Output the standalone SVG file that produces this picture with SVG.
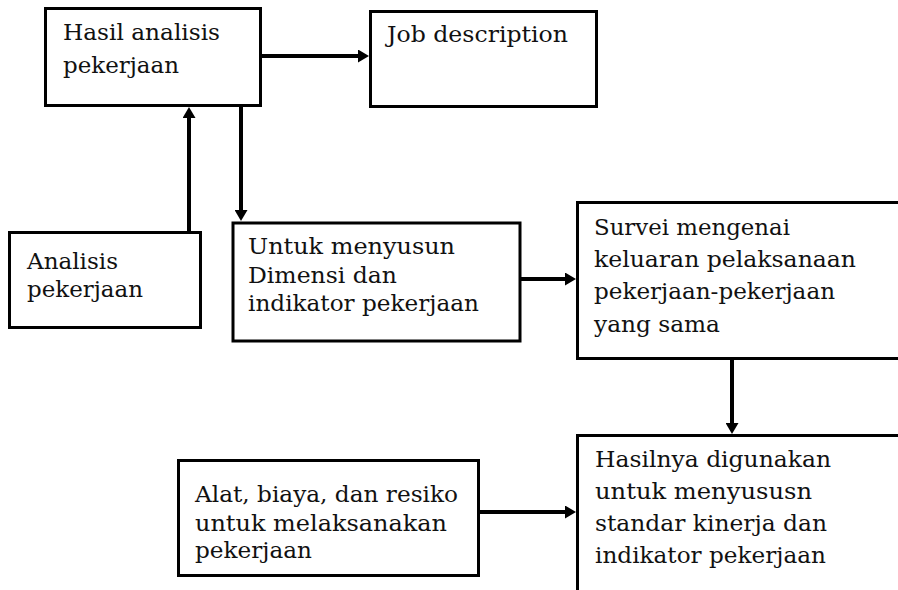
<svg xmlns="http://www.w3.org/2000/svg" width="898" height="590" viewBox="0 0 898 590">
<defs>
<marker id="ah" markerUnits="userSpaceOnUse" viewBox="0 0 11 13" refX="0" refY="6.5" markerWidth="11" markerHeight="13" orient="auto">
<path d="M0,0 L11,6.5 L0,13 Z" fill="#000"/>
</marker>
<style>
.box{fill:#fff;stroke:#000;stroke-width:3}
.t{font-family:"DejaVu Serif","Liberation Serif",serif;font-size:22px;fill:#111}
.c{fill:none;stroke:#000;stroke-width:4;marker-end:url(#ah)}
</style>
</defs>
<rect width="898" height="590" fill="#fff"/>
<g id="n1">
<rect class="box" x="45.5" y="8.5" width="215" height="97"/>
<text class="t" x="63" y="40" textLength="157" lengthAdjust="spacingAndGlyphs">Hasil analisis</text>
<text class="t" x="63" y="73" textLength="116" lengthAdjust="spacingAndGlyphs">pekerjaan</text>
</g>
<g id="n2">
<rect class="box" x="370.5" y="11.5" width="226" height="95"/>
<text class="t" x="387" y="42" textLength="181" lengthAdjust="spacingAndGlyphs">Job description</text>
</g>
<g id="n3">
<rect class="box" x="9.5" y="232.5" width="191" height="95"/>
<text class="t" x="27" y="269" textLength="91" lengthAdjust="spacingAndGlyphs">Analisis</text>
<text class="t" x="27" y="297" textLength="116" lengthAdjust="spacingAndGlyphs">pekerjaan</text>
</g>
<g id="n4">
<rect class="box" x="233" y="223" width="287" height="118"/>
<text class="t" x="248" y="254" textLength="207" lengthAdjust="spacingAndGlyphs">Untuk menyusun</text>
<text class="t" x="248" y="283" textLength="149" lengthAdjust="spacingAndGlyphs">Dimensi dan</text>
<text class="t" x="248" y="311" textLength="231" lengthAdjust="spacingAndGlyphs">indikator pekerjaan</text>
</g>
<g id="n5">
<rect class="box" x="577.5" y="202.5" width="330" height="156"/>
<text class="t" x="594" y="235" textLength="196" lengthAdjust="spacingAndGlyphs">Survei mengenai</text>
<text class="t" x="594" y="267" textLength="262" lengthAdjust="spacingAndGlyphs">keluaran pelaksanaan</text>
<text class="t" x="594" y="299" textLength="241" lengthAdjust="spacingAndGlyphs">pekerjaan-pekerjaan</text>
<text class="t" x="594" y="332" textLength="126" lengthAdjust="spacingAndGlyphs">yang sama</text>
</g>
<g id="n6">
<rect class="box" x="577.5" y="435.5" width="330" height="170"/>
<text class="t" x="595" y="467" textLength="236" lengthAdjust="spacingAndGlyphs">Hasilnya digunakan</text>
<text class="t" x="595" y="499" textLength="217" lengthAdjust="spacingAndGlyphs">untuk menyususn</text>
<text class="t" x="595" y="531" textLength="232" lengthAdjust="spacingAndGlyphs">standar kinerja dan</text>
<text class="t" x="595" y="563" textLength="231" lengthAdjust="spacingAndGlyphs">indikator pekerjaan</text>
</g>
<g id="n7">
<rect class="box" x="178.5" y="460.5" width="300" height="115"/>
<text class="t" x="195" y="502" textLength="263" lengthAdjust="spacingAndGlyphs">Alat, biaya, dan resiko</text>
<text class="t" x="195" y="531" textLength="252" lengthAdjust="spacingAndGlyphs">untuk melaksanakan</text>
<text class="t" x="195" y="558" textLength="117" lengthAdjust="spacingAndGlyphs">pekerjaan</text>
</g>
<g id="connectors">
<path class="c" d="M262,56 H358"/>
<path class="c" d="M189,231 V118"/>
<path class="c" d="M241,107 V210"/>
<path class="c" d="M521,279 H565"/>
<path class="c" d="M732,360 V423"/>
<path class="c" d="M480,512 H565"/>
</g>
</svg>
